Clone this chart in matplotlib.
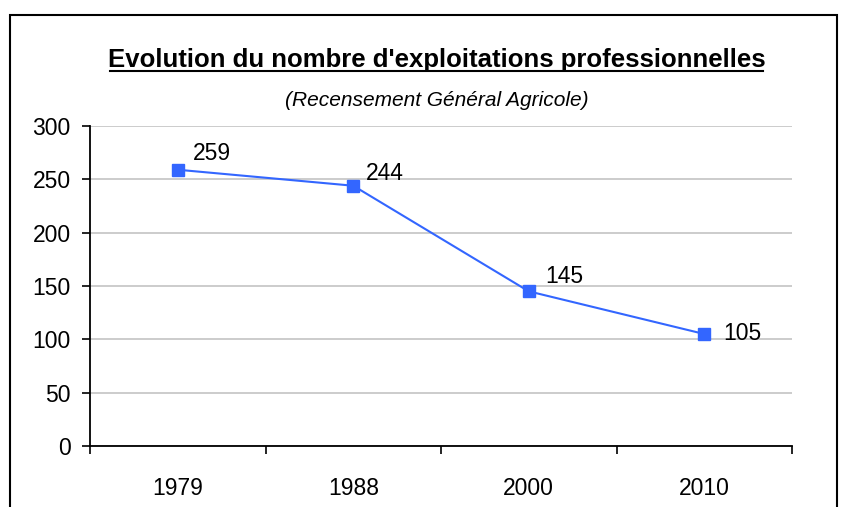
import matplotlib.pyplot as plt
from matplotlib.patches import Rectangle

years = ["1979", "1988", "2000", "2010"]
counts = [259, 244, 145, 105]

# label offsets (points) relative to each marker
label_offsets = [(11, 12), (9, 9), (12, 11), (14, 0)]

plt.rcParams["font.family"] = ["Liberation Sans", "DejaVu Sans"]

fig = plt.figure(figsize=(8.47, 5.07), dpi=100)
W, H = 847, 507
ax = fig.add_axes([90 / W, 1 - 446 / H, (792 - 90) / W, (446 - 126) / H])

x = list(range(len(years)))
ax.plot(x, counts, color="#3366FF", lw=1.5, marker="s", ms=8, zorder=3)

for xi, v, (dx, dy) in zip(x, counts, label_offsets):
    ax.annotate(str(v), (xi, v), xytext=(dx, dy), textcoords="offset points",
                ha="left", va="center", fontsize=16.5)

ax.set_xlim(-0.5, len(years) - 0.5)
ax.set_ylim(0, 300)
ax.set_yticks(range(0, 301, 50))
ax.tick_params(axis="y", labelsize=16.5, length=6, width=1.2, pad=8, direction="out")

ax.set_xticks(x)
ax.set_xticklabels(years)
ax.tick_params(axis="x", which="major", length=0, labelsize=16.5, pad=22)
ax.set_xticks([i - 0.5 for i in range(len(years) + 1)], minor=True)
ax.tick_params(axis="x", which="minor", length=6, width=1.2, direction="out")

ax.grid(axis="y", color="#C8C8C8", lw=1.3)
ax.set_axisbelow(True)
for s in ["top", "right"]:
    ax.spines[s].set_visible(False)
for s in ["left", "bottom"]:
    ax.spines[s].set_linewidth(1.3)

fig.text(0.5 * (110 + 763) / W, 1 - 67 / H, "Evolution du nombre d'exploitations professionnelles",
         ha="center", va="baseline", fontsize=18.5, fontweight="bold")
fig.add_artist(plt.Line2D([110 / W, 763 / W], [1 - 71 / H, 1 - 71 / H], color="black", lw=1.5))
fig.text(0.5 * (283 + 590) / W, 1 - 100 / H, "(Recensement Général Agricole)",
         ha="center", va="center", fontsize=15, fontstyle="italic")

fig.add_artist(Rectangle((10 / W, -0.1), (837 - 10) / W, 1 - 15 / H + 0.1,
                         transform=fig.transFigure, fill=False, edgecolor="black", lw=1.5))

fig.savefig("out.png", dpi=100)
